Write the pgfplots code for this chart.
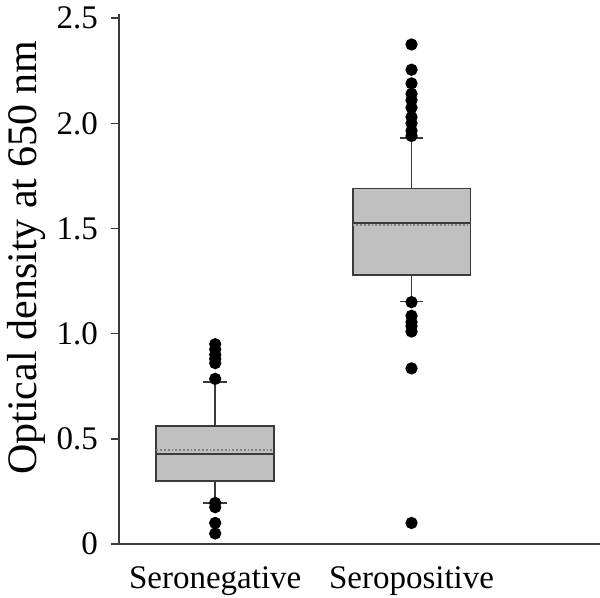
\documentclass[border=0pt]{standalone}
\usepackage{fontspec}
\setmainfont{Liberation Serif}
\usepackage{pgfplots}
\pgfplotsset{compat=1.18}
\usepgfplotslibrary{statistics}
\definecolor{boxfill}{HTML}{C0C0C0}
\definecolor{boxline}{HTML}{3A3A3A}
\begin{document}
\begin{tikzpicture}
\begin{axis}[
  scale only axis, width=240.5pt, height=265pt,
  xmin=0.51, xmax=2.96, ymin=0, ymax=2.52,
  axis lines=left, axis line style={-, line width=1pt, draw=boxline},
  xtick={1,2}, xticklabels={Seronegative,Seropositive},
  xtick style={draw=none}, xticklabel style={font=\fontsize{16.5}{18}\selectfont, yshift=-4pt},
  ytick={0,0.5,1,1.5,2,2.5}, yticklabels={0,0.5,1.0,1.5,2.0,2.5},
  ytick style={draw=boxline, line width=0.8pt}, tick align=outside, major tick length=4pt,
  yticklabel style={font=\fontsize{16.5}{18}\selectfont, xshift=-3pt},
  ylabel={Optical density at 650 nm},
  ylabel style={font=\fontsize{21}{22}\selectfont, at={(axis description cs:0,0.54)}, anchor=south, yshift=33pt},
  clip=false,
  boxplot/draw direction=y,
  boxplot/box extend=0.6,
  boxplot/whisker extend=0.12,
]
\addplot+[boxplot prepared={draw position=1, median=0.428, lower quartile=0.30, upper quartile=0.56, lower whisker=0.195, upper whisker=0.771},
  solid, draw=boxline, line width=0.9pt, fill=boxfill,
  mark=*, mark size=2.6pt, mark options={fill=black, draw=black},
  boxplot/every whisker/.style={draw=boxline, line width=0.8pt},
  boxplot/every median/.style={draw=boxline, line width=1pt}]
  table[row sep=\\, y index=0] {0.95\\ 0.925\\ 0.90\\ 0.88\\ 0.86\\ 0.785\\ 0.195\\ 0.175\\ 0.10\\ 0.05\\};
\addplot+[boxplot prepared={draw position=2, median=1.526, lower quartile=1.28, upper quartile=1.69, lower whisker=1.153, upper whisker=1.93},
  solid, draw=boxline, line width=0.9pt, fill=boxfill,
  mark=*, mark size=2.6pt, mark options={fill=black, draw=black},
  boxplot/every whisker/.style={draw=boxline, line width=0.8pt},
  boxplot/every median/.style={draw=boxline, line width=1pt}]
  table[row sep=\\, y index=0] {2.375\\ 2.255\\ 2.19\\ 2.14\\ 2.11\\ 2.075\\ 2.03\\ 2.00\\ 1.965\\ 1.94\\ 1.15\\ 1.085\\ 1.055\\ 1.035\\ 1.01\\ 0.835\\ 0.10\\};
\addplot[densely dotted, draw=gray, line width=0.9pt] coordinates {(0.7,0.447) (1.3,0.447)};
\addplot[densely dotted, draw=gray, line width=0.9pt] coordinates {(1.7,1.515) (2.3,1.515)};
\end{axis}
\pgfresetboundingbox
\path (-59.5pt,-27pt) rectangle (240.5pt,272pt);
\end{tikzpicture}
\end{document}
